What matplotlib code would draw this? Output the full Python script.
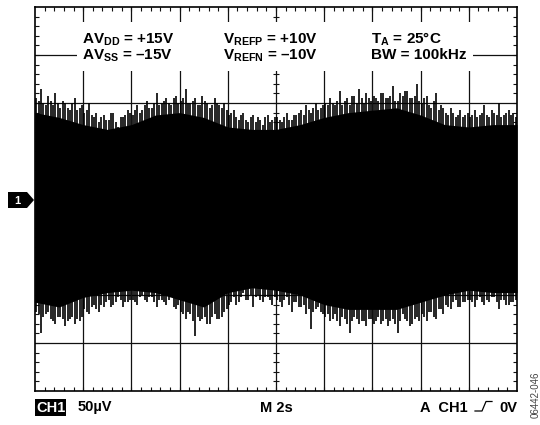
import numpy as np
import matplotlib.pyplot as plt
from matplotlib.patches import Rectangle, Polygon
from matplotlib.lines import Line2D

plt.rcParams['font.family'] = ['Liberation Sans', 'DejaVu Sans']
plt.rcParams['mathtext.fontset'] = 'custom'
plt.rcParams['mathtext.rm'] = 'Liberation Sans:bold'
plt.rcParams['mathtext.bf'] = 'Liberation Sans:bold'

# solid part of the noise band, read every 0.5 div (vertical divisions)
core_t = [0.0, 0.5, 1.0, 1.5, 2.0, 2.5, 3.0, 3.5, 4.0, 4.5, 5.0,
          5.5, 6.0, 6.5, 7.0, 7.5, 8.0, 8.5, 9.0, 9.5, 10.0]
core_top = [1.80, 1.70, 1.55, 1.45, 1.55, 1.75, 1.80, 1.70, 1.50, 1.45, 1.45,
            1.55, 1.70, 1.80, 1.85, 1.90, 1.75, 1.55, 1.50, 1.55, 1.55]
core_bot = [-2.15, -2.25, -2.05, -1.95, -1.90, -1.95, -2.10, -2.25, -1.95, -1.85, -1.90,
            -2.00, -2.20, -2.30, -2.30, -2.30, -2.15, -2.00, -1.90, -1.95, -1.95]

# noise peaks, one value per 0.1 div of time (two interleaved sets)
upper = [2.10, 2.30, 1.95, 2.05, 2.20, 1.90, 2.00, 1.85, 2.10, 1.90,
         1.80, 2.00, 1.70, 1.60, 1.75, 1.65, 1.80, 1.50, 1.70, 1.85,
         1.75, 1.95, 1.85, 2.05, 1.90, 2.20, 2.00, 2.10, 1.95, 2.15,
         2.05, 2.30, 2.00, 2.10, 1.95, 2.05, 1.90, 2.10, 1.95, 2.00,
         1.75, 1.85, 1.65, 1.80, 1.60, 1.75, 1.70, 1.55, 1.75, 1.65,
         1.70, 1.60, 1.80, 1.65, 1.75, 1.85, 1.95, 1.80, 2.00, 1.90,
         2.00, 2.10, 1.95, 2.25, 2.05, 1.95, 2.15, 2.30, 2.00, 2.10,
         2.15, 2.05, 2.20, 2.10, 2.35, 2.05, 2.15, 2.25, 2.10, 2.40,
         2.00, 2.15, 1.90, 2.20, 1.95, 1.80, 1.90, 1.70, 1.85, 1.75,
         1.70, 1.85, 1.75, 1.95, 1.70, 1.80, 2.00, 1.75, 1.85, 1.80]
upper_b = [2.05, 2.00, 2.15, 1.95, 2.00, 2.05, 1.90, 2.00, 1.85, 1.95,
           1.85, 1.75, 1.80, 1.70, 1.65, 1.80, 1.60, 1.70, 1.75, 1.80,
           1.85, 1.80, 1.95, 1.90, 2.00, 1.95, 2.05, 2.00, 2.10, 2.00,
           2.10, 2.00, 2.05, 1.95, 2.15, 2.00, 1.95, 2.00, 1.90, 1.85,
           1.80, 1.70, 1.75, 1.65, 1.70, 1.60, 1.65, 1.70, 1.60, 1.70,
           1.65, 1.70, 1.65, 1.75, 1.80, 1.75, 1.85, 1.90, 1.85, 1.95,
           1.95, 2.00, 2.05, 1.95, 2.10, 2.15, 2.00, 2.10, 2.20, 2.05,
           2.10, 2.20, 2.10, 2.15, 2.05, 2.20, 2.25, 2.10, 2.15, 2.05,
           2.10, 1.95, 2.05, 1.85, 1.90, 1.75, 1.80, 1.75, 1.70, 1.80,
           1.75, 1.70, 1.80, 1.75, 1.85, 1.75, 1.70, 1.80, 1.75, 1.70]
lower = [-2.35, -2.80, -2.40, -2.50, -2.60, -2.45, -2.65, -2.50, -2.60, -2.55,
         -2.30, -2.40, -2.20, -2.35, -2.25, -2.10, -2.20, -2.05, -2.25, -2.15,
         -2.10, -2.20, -2.00, -2.15, -2.05, -2.25, -2.10, -2.20, -2.05, -2.30,
         -2.35, -2.50, -2.40, -2.85, -2.55, -2.45, -2.60, -2.40, -2.50, -2.35,
         -2.20, -2.05, -2.15, -1.95, -2.10, -2.25, -2.00, -2.15, -2.05, -2.20,
         -2.10, -2.25, -2.05, -2.35, -2.15, -2.25, -2.40, -2.70, -2.30, -2.35,
         -2.45, -2.55, -2.40, -2.65, -2.50, -2.80, -2.45, -2.60, -2.55, -2.50,
         -2.60, -2.45, -2.55, -2.65, -2.50, -2.80, -2.40, -2.55, -2.60, -2.45,
         -2.40, -2.55, -2.35, -2.50, -2.30, -2.20, -2.30, -2.10, -2.25, -2.15,
         -2.10, -2.25, -2.05, -2.20, -2.15, -2.05, -2.30, -2.10, -2.20, -2.15]
lower_b = [-2.40, -2.45, -2.35, -2.55, -2.45, -2.50, -2.55, -2.45, -2.50, -2.45,
           -2.35, -2.25, -2.30, -2.20, -2.15, -2.25, -2.15, -2.10, -2.15, -2.10,
           -2.15, -2.05, -2.10, -2.05, -2.15, -2.10, -2.15, -2.10, -2.25, -2.20,
           -2.40, -2.35, -2.55, -2.45, -2.50, -2.60, -2.45, -2.50, -2.45, -2.30,
           -2.15, -2.20, -2.05, -2.10, -2.00, -2.05, -2.10, -2.05, -2.10, -2.05,
           -2.15, -2.10, -2.20, -2.15, -2.25, -2.20, -2.30, -2.35, -2.25, -2.40,
           -2.40, -2.50, -2.55, -2.45, -2.60, -2.55, -2.50, -2.55, -2.65, -2.50,
           -2.55, -2.60, -2.50, -2.55, -2.60, -2.55, -2.50, -2.65, -2.50, -2.55,
           -2.45, -2.35, -2.45, -2.30, -2.40, -2.25, -2.15, -2.25, -2.15, -2.10,
           -2.15, -2.10, -2.15, -2.10, -2.05, -2.15, -2.10, -2.20, -2.15, -2.10]

col1 = ['AV$_{\\mathbf{DD}}$ = +15V', 'AV$_{\\mathbf{SS}}$ = \u201315V']
col2 = ['V$_{\\mathbf{REFP}}$ = +10V', 'V$_{\\mathbf{REFN}}$ = \u201310V']
col3 = ['T$_{\\mathbf{A}}$ = 25\u00b0C', 'BW = 100kHz']

W, H = 540, 425
fig = plt.figure(figsize=(W / 100, H / 100), dpi=100)
ax = fig.add_axes([35 / W, 34 / H, 482 / W, 384 / H])
ax.set_xlim(0, 10)
ax.set_ylim(-4, 4)
ax.set_xticks([])
ax.set_yticks([])
for s in ax.spines.values():
    s.set_linewidth(1.2)
    s.set_zorder(6)

# graticule
for i in range(1, 10):
    ax.axvline(i, color='#111', lw=0.9, zorder=1)
for j in range(-3, 4):
    ax.axhline(j, color='#111', lw=0.9, zorder=1)
mx = np.arange(0.2, 10, 0.2)
my = np.arange(-3.8, 4, 0.2)
tl = 0.085
ax.vlines(mx, 4 - tl, 4, color='#111', lw=0.8, zorder=1)
ax.vlines(mx, -4, -4 + tl, color='#111', lw=0.8, zorder=1)
ax.vlines(mx, -0.06, 0.06, color='#111', lw=0.8, zorder=1)
ax.hlines(my, 0, tl, color='#111', lw=0.8, zorder=1)
ax.hlines(my, 10 - tl, 10, color='#111', lw=0.8, zorder=1)
ax.hlines(my, 5 - 0.06, 5 + 0.06, color='#111', lw=0.8, zorder=1)

# white box behind the conditions text
ax.add_patch(Rectangle((0.87, 2.67), 8.22, 1.02, fc='white', ec='none', zorder=2))

# noise band: solid core plus peaks
ax.fill_between(core_t, core_bot, core_top, color='black', lw=0, zorder=3)
ta = np.arange(len(upper)) * 0.1 + 0.025
tb = np.arange(len(upper_b)) * 0.1 + 0.075
ax.vlines(ta, lower, upper, color='black', lw=1.2, zorder=3)
ax.vlines(tb, lower_b, upper_b, color='black', lw=1.2, zorder=3)

tkw = dict(fontsize=11, fontweight='bold', va='baseline', ha='left', zorder=4)
for x0, col in [(0.97, col1), (3.90, col2), (6.97, col3)]:
    ax.text(x0, 3.25, col[0], **tkw)
    ax.text(x0, 2.92, col[1], **tkw)


def fx(px):
    return px / W


def fy(py):
    return 1 - py / H


# channel marker
fig.patches.append(Polygon([(fx(8), fy(192)), (fx(27), fy(192)), (fx(34), fy(200)),
                            (fx(27), fy(208)), (fx(8), fy(208))], closed=True,
                           fc='black', ec='none', transform=fig.transFigure, figure=fig))
fig.text(fx(17.5), fy(204.5), '1', color='white', fontsize=8, fontweight='bold',
         ha='center', va='baseline')

# status line
bkw = dict(fontsize=10.5, fontweight='bold', va='baseline')
fig.text(fx(36), fy(411.5), 'CH1', color='white', ha='left',
         bbox=dict(boxstyle='square,pad=0.08', fc='black', ec='none'), **bkw)
fig.text(fx(78), fy(411.5), '50\u00b5V', ha='left', **bkw)
fig.text(fx(260), fy(411.5), 'M 2s', ha='left', **bkw)
fig.text(fx(420), fy(411.5), 'A  CH1', ha='left', **bkw)
fig.text(fx(517), fy(411.5), '0V', ha='right', **bkw)
fig.lines.append(Line2D([fx(475), fx(482), fx(486), fx(492)],
                        [fy(411), fy(411), fy(401.5), fy(401.5)],
                        color='black', lw=0.9, transform=fig.transFigure, figure=fig))

fig.text(fx(536), fy(395), '06442-046', rotation=90, fontsize=7, color='#444',
         ha='center', va='center')

fig.savefig('out.png', dpi=100)
